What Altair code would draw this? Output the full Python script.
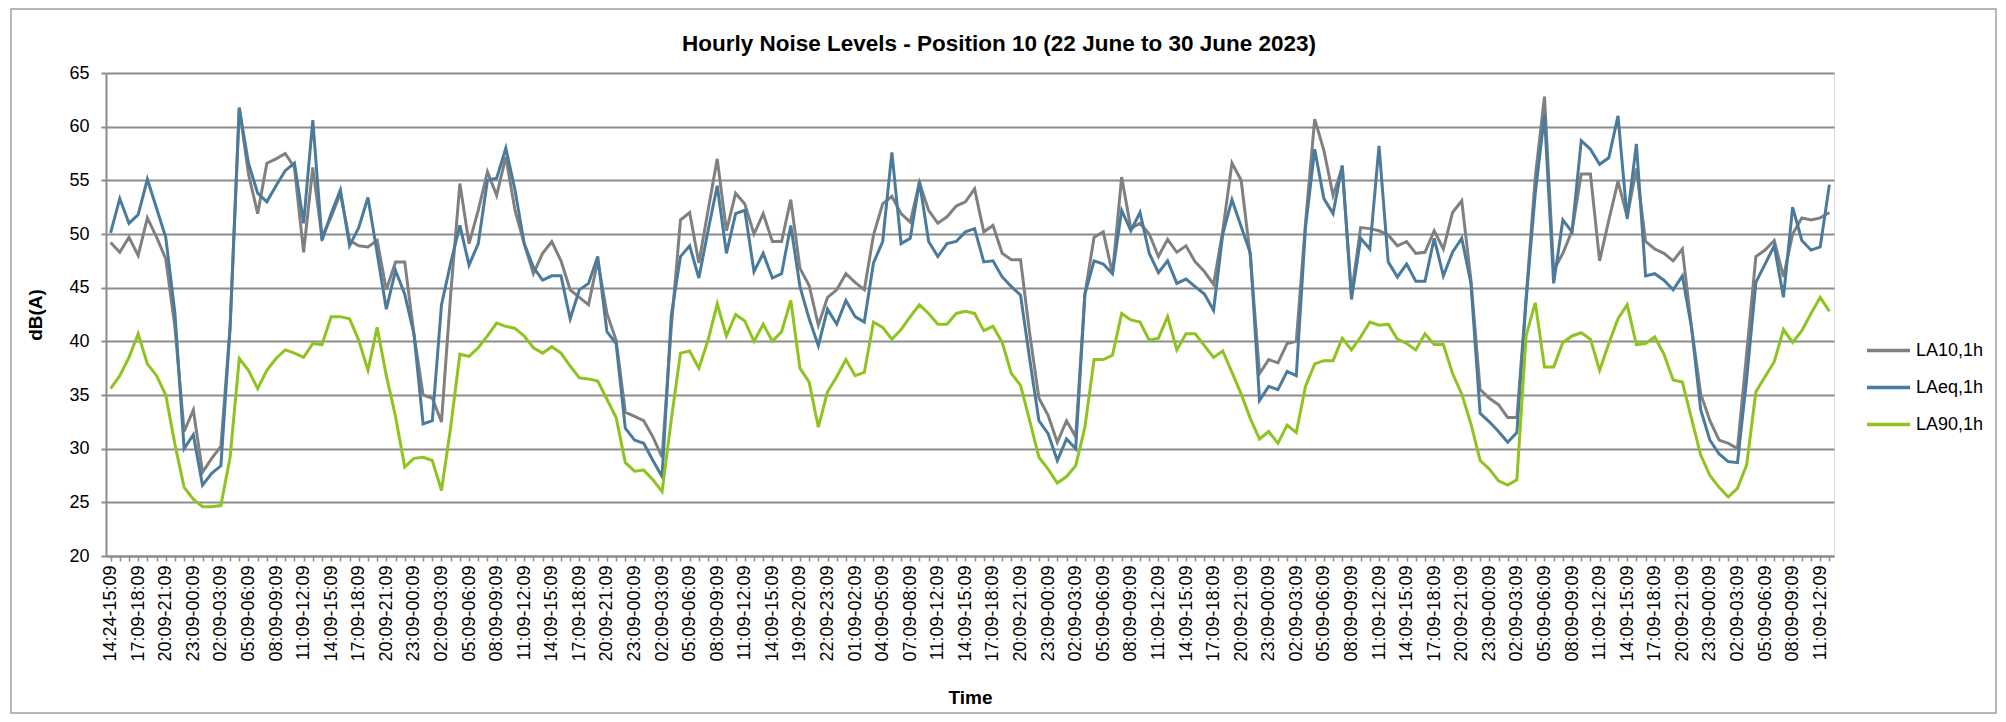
import json
import altair as alt
import pandas as pd

TITLE = "Hourly Noise Levels - Position 10 (22 June to 30 June 2023)"
SERIES = ["LA10,1h", "LAeq,1h", "LA90,1h"]
COLORS = ["#808080", "#4a7b9d", "#8fc31f"]

TICK_LABELS = [
    "14:24-15:09", "17:09-18:09", "20:09-21:09", "23:09-00:09", "02:09-03:09", "05:09-06:09",
    "08:09-09:09", "11:09-12:09", "14:09-15:09", "17:09-18:09", "20:09-21:09", "23:09-00:09",
    "02:09-03:09", "05:09-06:09", "08:09-09:09", "11:09-12:09", "14:09-15:09", "17:09-18:09",
    "20:09-21:09", "23:09-00:09", "02:09-03:09", "05:09-06:09", "08:09-09:09", "11:09-12:09",
    "14:09-15:09", "19:09-20:09", "22:09-23:09", "01:09-02:09", "04:09-05:09", "07:09-08:09",
    "11:09-12:09", "14:09-15:09", "17:09-18:09", "20:09-21:09", "23:09-00:09", "02:09-03:09",
    "05:09-06:09", "08:09-09:09", "11:09-12:09", "14:09-15:09", "17:09-18:09", "20:09-21:09",
    "23:09-00:09", "02:09-03:09", "05:09-06:09", "08:09-09:09", "11:09-12:09", "14:09-15:09",
    "17:09-18:09", "20:09-21:09", "23:09-00:09", "02:09-03:09", "05:09-06:09", "08:09-09:09",
    "11:09-12:09", "14:09-15:09", "17:09-18:09", "20:09-21:09", "23:09-00:09", "02:09-03:09",
    "05:09-06:09", "08:09-09:09", "11:09-12:09",
]

LA10 = [
    49.2, 48.3, 49.7, 48.0, 51.5, 49.7, 47.7, 41.3, 31.6, 33.6, 27.8, 29.1, 30.2, 41.3, 61.8, 55.6,
    51.9, 56.6, 57.0, 57.5, 56.2, 48.3, 56.2, 49.7, 51.6, 53.8, 49.4, 48.9, 48.8, 49.4, 44.8, 47.4,
    47.4, 40.7, 35.0, 34.7, 32.5, 44.4, 54.7, 49.1, 52.2, 55.8, 53.6, 57.2, 52.2, 49.1, 46.3, 48.2,
    49.3, 47.5, 44.8, 44.1, 43.4, 47.5, 42.6, 40.1, 33.4, 33.0, 32.6, 31.1, 29.2, 41.3, 51.3, 52.0,
    47.3, 52.2, 57.0, 50.3, 53.8, 52.8, 50.0, 51.9, 49.3, 49.3, 53.2, 46.8, 45.2, 41.5, 44.1, 44.8,
    46.3, 45.5, 44.8, 49.9, 52.8, 53.5, 51.9, 51.1, 54.8, 52.2, 51.0, 51.6, 52.6, 53.0, 54.2, 50.2,
    50.8, 48.2, 47.6, 47.6, 40.7, 34.7, 33.1, 30.6, 32.6, 31.1, 44.4, 49.7, 50.2, 46.3, 55.3, 50.5,
    51.0, 50.0, 47.9, 49.5, 48.3, 48.9, 47.4, 46.5, 45.3, 50.3, 56.6, 55.0, 47.9, 37.0, 38.3, 38.0,
    39.8, 40.0, 51.0, 60.7, 57.8, 53.6, 56.2, 44.4, 50.6, 50.5, 50.3, 49.9, 48.9, 49.3, 48.2, 48.3,
    50.3, 48.6, 52.0, 53.1, 45.7, 35.5, 34.7, 34.1, 32.9, 32.9, 44.0, 55.3, 62.8, 46.6, 48.2, 50.3,
    55.6, 55.6, 47.5, 51.3, 54.9, 51.6, 56.1, 49.3, 48.6, 48.2, 47.5, 48.6, 41.3, 35.1, 32.6, 30.8,
    30.5, 30.0, 38.9, 47.9, 48.5, 49.4, 46.0, 50.0, 51.5, 51.3, 51.5, 52.0,
]

LAEQ = [
    50.1, 53.3, 51.0, 51.8, 55.1, 52.4, 49.7, 42.6, 30.0, 31.3, 26.6, 27.7, 28.4, 41.3, 61.7, 56.6,
    53.8, 53.0, 54.5, 55.9, 56.6, 51.0, 60.6, 49.4, 51.9, 54.1, 48.9, 50.6, 53.4, 48.2, 43.0, 46.6,
    44.4, 40.7, 32.3, 32.6, 43.4, 47.3, 50.8, 47.1, 49.1, 55.0, 55.2, 58.0, 54.1, 49.1, 46.9, 45.7,
    46.1, 46.1, 42.1, 44.8, 45.4, 47.9, 40.9, 39.8, 31.9, 30.8, 30.5, 28.9, 27.4, 42.4, 47.9, 48.9,
    45.9, 50.3, 54.5, 48.2, 51.9, 52.2, 46.5, 48.2, 45.9, 46.3, 50.8, 45.1, 42.1, 39.6, 43.0, 41.6,
    43.8, 42.3, 41.8, 47.3, 49.3, 57.6, 49.1, 49.6, 54.9, 49.3, 47.9, 49.1, 49.3, 50.2, 50.5, 47.4,
    47.5, 46.0, 45.1, 44.3, 38.3, 32.6, 31.4, 28.9, 30.9, 30.0, 44.4, 47.5, 47.2, 46.3, 52.2, 50.3,
    52.0, 48.2, 46.4, 47.5, 45.4, 45.8, 45.1, 44.4, 42.9, 50.0, 53.2, 50.7, 48.2, 34.5, 35.8, 35.5,
    37.2, 36.8, 50.6, 57.9, 53.3, 51.9, 56.4, 43.9, 49.6, 48.6, 58.2, 47.4, 46.0, 47.2, 45.6, 45.6,
    49.6, 46.1, 48.3, 49.6, 45.4, 33.3, 32.5, 31.6, 30.6, 31.5, 43.8, 53.8, 61.1, 45.4, 51.3, 50.2,
    58.7, 57.9, 56.5, 57.1, 61.0, 51.4, 58.4, 46.1, 46.3, 45.7, 44.8, 46.1, 41.3, 33.6, 30.8, 29.5,
    28.8, 28.7, 36.5, 45.5, 47.2, 48.9, 44.1, 52.5, 49.4, 48.5, 48.8, 54.6,
]

LA90 = [
    35.6, 36.8, 38.5, 40.7, 37.9, 36.8, 35.0, 30.4, 26.4, 25.3, 24.6, 24.6, 24.7, 29.2, 38.4, 37.3,
    35.6, 37.3, 38.4, 39.2, 38.9, 38.5, 39.8, 39.7, 42.3, 42.3, 42.1, 40.1, 37.3, 41.3, 36.8, 33.0,
    28.3, 29.1, 29.2, 28.9, 26.1, 32.0, 38.8, 38.6, 39.4, 40.5, 41.7, 41.4, 41.2, 40.5, 39.4, 38.9,
    39.5, 38.9, 37.7, 36.6, 36.5, 36.3, 34.6, 32.9, 28.7, 27.9, 28.0, 27.1, 26.0, 32.7, 38.9, 39.1,
    37.5, 40.1, 43.5, 40.5, 42.5, 41.9, 40.0, 41.6, 40.0, 40.9, 43.8, 37.5, 36.2, 32.0, 35.3, 36.7,
    38.3, 36.8, 37.1, 41.8, 41.3, 40.2, 41.1, 42.3, 43.4, 42.6, 41.6, 41.6, 42.6, 42.8, 42.6, 41.0,
    41.4, 39.9, 37.0, 35.9, 32.6, 29.2, 28.1, 26.8, 27.4, 28.4, 32.0, 38.3, 38.3, 38.7, 42.6, 42.0,
    41.8, 40.1, 40.3, 42.3, 39.2, 40.7, 40.7, 39.6, 38.5, 39.1, 37.1, 35.1, 32.8, 30.9, 31.6, 30.5,
    32.2, 31.5, 35.8, 37.9, 38.2, 38.2, 40.3, 39.2, 40.4, 41.8, 41.5, 41.6, 40.2, 39.8, 39.2, 40.7,
    39.7, 39.7, 37.0, 35.1, 32.3, 28.9, 28.1, 27.0, 26.6, 27.1, 40.5, 43.6, 37.6, 37.6, 39.9, 40.5,
    40.8, 40.2, 37.3, 39.8, 42.1, 43.4, 39.7, 39.8, 40.4, 38.8, 36.4, 36.2, 32.8, 29.4, 27.5, 26.4,
    25.5, 26.3, 28.5, 35.3, 36.7, 38.1, 41.1, 39.9, 41.0, 42.6, 44.1, 42.8,
]

FONT = "Liberation Sans"

rows = []
for name, vals in zip(SERIES, [LA10, LAEQ, LA90]):
    for i, v in enumerate(vals):
        rows.append({"slot": i, "series": name, "level": v})
df = pd.DataFrame(rows)
n = len(LA10)

label_expr = "datum.value % 3 == 0 ? " + json.dumps(TICK_LABELS) + "[datum.value / 3] : ''"

W, H = 1728, 483

lines = alt.Chart(df).mark_line(strokeWidth=3, clip=False).encode(
    x=alt.X(
        "slot:Q",
        scale=alt.Scale(domain=[-0.5, n - 0.5], nice=False, zero=False),
        axis=alt.Axis(
            values=list(range(n)),
            labelExpr=label_expr,
            labelAngle=-90,
            labelOverlap=False,
            labelFlush=False,
            labelBound=False,
            labelFontSize=18,
            labelFont=FONT,
            labelColor="#000000",
            labelPadding=4,
            tickSize=5,
            tickColor="#8c8c8c",
            tickWidth=1.5,
            domainColor="#8c8c8c",
            domainWidth=2,
            grid=False,
            title="Time",
            titleFont=FONT,
            titleFontSize=19,
            titleFontWeight="bold",
            titleColor="#000000",
            titleBaseline="middle",
            titleY=141,
        ),
    ),
    y=alt.Y(
        "level:Q",
        scale=alt.Scale(domain=[20, 65], nice=False, zero=False),
        axis=alt.Axis(
            values=list(range(20, 66, 5)),
            grid=True,
            gridColor="#8c8c8c",
            gridWidth=2,
            labelFontSize=18,
            labelFont=FONT,
            labelColor="#000000",
            labelPadding=12,
            tickSize=5,
            tickColor="#8c8c8c",
            tickWidth=2,
            domainColor="#8c8c8c",
            domainWidth=2,
            title="dB(A)",
            titleFont=FONT,
            titleFontSize=19,
            titleFontWeight="bold",
            titleColor="#000000",
            titleX=-71,
            titleY=H / 2,
            titleBaseline="middle",
            titleAlign="center",
        ),
    ),
    color=alt.Color(
        "series:N",
        scale=alt.Scale(domain=SERIES, range=COLORS),
        legend=alt.Legend(
            orient="none",
            legendX=1759,
            legendY=254,
            title=None,
            symbolType="stroke",
            symbolSize=1849,
            symbolStrokeWidth=3.5,
            labelFontSize=18,
            labelFont=FONT,
            labelColor="#000000",
            labelOffset=4,
            rowPadding=4,
        ),
    ),
)

border = alt.Chart(pd.DataFrame({"b": [0]})).mark_rect(
    fill=None, stroke="#a0a0a0", strokeWidth=1.5
).encode(x=alt.value(-95), x2=alt.value(1890), y=alt.value(-64), y2=alt.value(640))

title = alt.Chart(pd.DataFrame({"t": [TITLE]})).mark_text(
    font=FONT, fontSize=22.5, fontWeight="bold", color="#000000",
    align="center", baseline="middle",
).encode(text="t:N", x=alt.value(893), y=alt.value(-29))

chart = alt.layer(border, lines, title).properties(
    width=W,
    height=H,
    padding={"left": 98, "top": 65, "right": 164, "bottom": 158},
    autosize=alt.AutoSizeParams(type="none"),
).configure_view(stroke=None).configure(background="#ffffff")

chart.save("out.html", embed_options={"renderer": "svg", "actions": False})
